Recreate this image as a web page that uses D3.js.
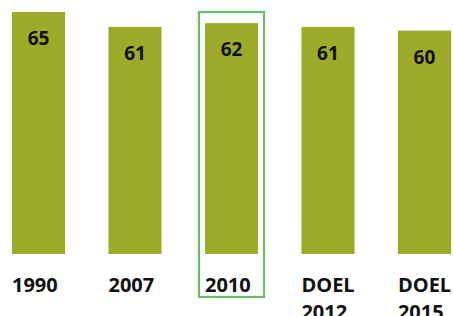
<!DOCTYPE html>
<html>
<head>
<meta charset="utf-8">
<script src="https://cdn.jsdelivr.net/npm/d3@7"></script>
<style>
  body { margin: 0; background: #fff; }
  text { font-family: "Open Sans", sans-serif; font-weight: bold; fill: #111; }
</style>
</head>
<body>
<div id="chart"></div>
<script>
// data
var categories = ['1990', '2007', '2010', 'DOEL 2012', 'DOEL 2015'];
var values = [65, 61, 62, 61, 60];
var highlight = '2010';

var width = 453, height = 316;
var barColor = '#9dab2a';
var boxColor = '#6cbd6b';

var svg = d3.select('#chart')
  .append('svg')
    .attr('width', width)
    .attr('height', height);

var x = d3.scaleBand()
  .domain(categories)
  .range([12, 451])
  .paddingInner(0.45);

var y = d3.scaleLinear()
  .domain([0, 65])
  .range([254, 12]);

// highlight box round 2010
svg.append('rect')
  .attr('x', x(highlight) - 6)
  .attr('y', y(65))
  .attr('width', x.bandwidth() + 12)
  .attr('height', 297 - y(65))
  .attr('fill', 'none')
  .attr('stroke', boxColor)
  .attr('stroke-width', 2.2);

// bars
svg.selectAll('.bar')
  .data(values)
  .enter()
  .append('rect')
    .attr('class', 'bar')
    .attr('x', function(d, i){ return x(categories[i]); })
    .attr('y', function(d){ return y(d); })
    .attr('width', x.bandwidth())
    .attr('height', function(d){ return y(0) - y(d); })
    .attr('fill', barColor);

// value labels
svg.selectAll('.val')
  .data(values)
  .enter()
  .append('text')
    .attr('class', 'val')
    .attr('x', function(d, i){ return x(categories[i]) + x.bandwidth() / 2; })
    .attr('y', function(d){ return y(d) + 33; })
    .attr('text-anchor', 'middle')
    .attr('font-size', 19)
    .text(function(d){ return d; });

// category labels, left aligned with the bars
var labels = svg.selectAll('.cat')
  .data(categories)
  .enter()
  .append('text')
    .attr('class', 'cat')
    .attr('x', function(d){ return x(d); })
    .attr('y', 292)
    .attr('font-size', 20);

labels.selectAll('tspan')
  .data(function(d){ return d.split(' '); })
  .enter()
  .append('tspan')
    .attr('x', function(){ return d3.select(this.parentNode).attr('x'); })
    .attr('dy', function(d, i){ return i === 0 ? 0 : 27; })
    .text(function(d){ return d; });
</script>
</body>
</html>
